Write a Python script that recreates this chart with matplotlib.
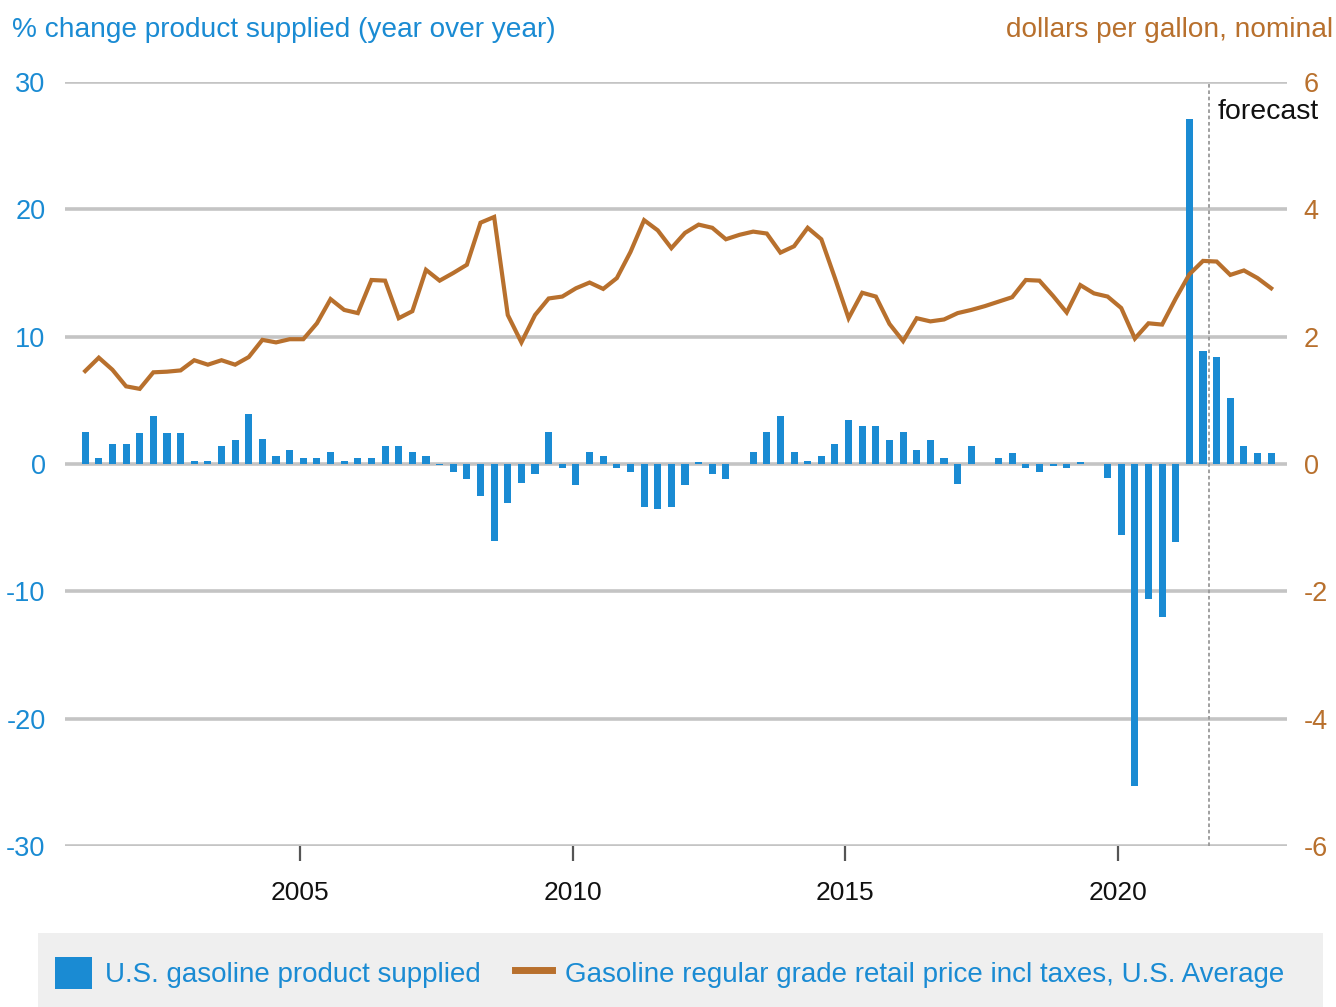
import matplotlib
matplotlib.use("Agg")
import matplotlib.pyplot as plt
import numpy as np
from matplotlib.patches import Rectangle
from matplotlib.lines import Line2D

plt.rcParams['font.family'] = ['Liberation Sans', 'DejaVu Sans']

# Quarterly data, 2001 Q1 .. 2022 Q4
start_year = 2001
n_quarters = 88

supply_pct = [
    2.5, 0.5, 1.6, 1.6, 2.4, 3.8, 2.4, 2.4, 0.2, 0.2,
    1.4, 1.9, 3.9, 2.0, 0.65, 1.1, 0.5, 0.5, 0.95, 0.25,
    0.5, 0.5, 1.4, 1.4, 0.95, 0.65, -0.1, -0.6, -1.2, -2.5,
    -6.05, -3.1, -1.5, -0.75, 2.5, -0.3, -1.65, 0.95, 0.65, -0.3,
    -0.6, -3.4, -3.55, -3.4, -1.65, 0.15, -0.75, -1.2, 0.0, 0.95,
    2.5, 3.8, 0.95, 0.2, 0.65, 1.6, 3.45, 3.0, 3.0, 1.9,
    2.5, 1.1, 1.85, 0.45, -1.55, 1.4, 0.0, 0.45, 0.9, -0.3,
    -0.6, -0.15, -0.3, 0.15, 0.0, -1.1, -5.6, -25.3, -10.6, -12.0,
    -6.1, 27.1, 8.9, 8.4, 5.15, 1.4, 0.9, 0.9,
]

price_usd = [
    1.46, 1.67, 1.48, 1.22, 1.18, 1.44, 1.45, 1.47, 1.63, 1.56,
    1.63, 1.56, 1.68, 1.95, 1.91, 1.96, 1.96, 2.21, 2.59, 2.42,
    2.37, 2.89, 2.88, 2.29, 2.40, 3.05, 2.88, 3.00, 3.13, 3.79,
    3.88, 2.34, 1.91, 2.34, 2.60, 2.63, 2.76, 2.85, 2.75, 2.92,
    3.33, 3.83, 3.67, 3.39, 3.63, 3.76, 3.71, 3.53, 3.60, 3.65,
    3.62, 3.32, 3.42, 3.71, 3.53, 2.92, 2.29, 2.69, 2.63, 2.20,
    1.93, 2.29, 2.24, 2.27, 2.37, 2.42, 2.48, 2.55, 2.62, 2.89,
    2.88, 2.64, 2.38, 2.81, 2.68, 2.63, 2.45, 1.97, 2.21, 2.19,
    2.60, 2.98, 3.19, 3.18, 2.97, 3.04, 2.92, 2.76,
]

year_ticks = [2005, 2010, 2015, 2020]
left_ticks = [-30, -20, -10, 0, 10, 20, 30]
right_ticks = [-6, -4, -2, 0, 2, 4, 6]
forecast_start = 2021.67

left_title = "% change product supplied (year over year)"
right_title = "dollars per gallon, nominal"
bar_label = "U.S. gasoline product supplied"
line_label = "Gasoline regular grade retail price incl taxes, U.S. Average"

BLUE = "#1a8bd3"
BROWN = "#b8702d"
GRID = "#c4c4c4"

x = start_year + np.arange(n_quarters) * 0.25 + 0.06

fig = plt.figure(figsize=(13.36, 10.07), dpi=100)
ax = fig.add_axes([65 / 1336, 1 - 846 / 1007, (1287 - 65) / 1336, (846 - 82) / 1007])
ax2 = ax.twinx()

ax.set_zorder(1)
ax.patch.set_visible(False)
ax2.set_zorder(0)

ax.bar(x, supply_pct, width=0.13, color=BLUE, zorder=3)
ax.set_ylim(-30, 30)
ax.set_xlim(2000.69, 2023.1)
ax.set_yticks(left_ticks)
ax.set_yticklabels([str(t) for t in left_ticks])
for t in left_ticks:
    ax.axhline(t, color=GRID, lw=2.6, zorder=1)

ax2.set_ylim(-6, 6)
ax2.set_yticks(right_ticks)
ax2.set_yticklabels([str(t) for t in right_ticks])

# price line on top
ax3 = ax.twinx()
ax3.set_zorder(2)
ax3.patch.set_visible(False)
ax3.plot(x, price_usd, color=BROWN, lw=3.0, solid_joinstyle='miter', zorder=4)
ax3.set_ylim(-6, 6)
ax3.set_yticks([])
for s in ax3.spines.values():
    s.set_visible(False)

ax.axvline(forecast_start, color="#999999", lw=1.3, ls=(0, (2, 1.5)), zorder=2)
ax.text(forecast_start + 0.16, 27.64, "forecast", fontsize=20.5, color="#111111",
        va="center", ha="left", zorder=5)

for a in (ax, ax2):
    for s in a.spines.values():
        s.set_visible(False)

ax.set_xticks(year_ticks)
ax.set_xticklabels([str(y) for y in year_ticks])
ax.tick_params(axis='x', length=11, width=1.6, color="#555555", labelsize=19,
               labelcolor="#111111", pad=14, direction='out')
ax.tick_params(axis='y', length=0, labelsize=19.5, labelcolor=BLUE, pad=14)
ax2.tick_params(axis='y', length=0, labelsize=19.5, labelcolor=BROWN, pad=12)
ax2.tick_params(axis='x', length=0)

fig.text(12 / 1336, 1 - 30 / 1007, left_title, color=BLUE, fontsize=20.2,
         ha="left", va="center")
fig.text(1333 / 1336, 1 - 30 / 1007, right_title, color=BROWN, fontsize=20.2,
         ha="right", va="center")

# legend background
bg = Rectangle((38 / 1336, 0), (1323 - 38) / 1336, (1007 - 933) / 1007,
               transform=fig.transFigure, facecolor="#efefef", edgecolor="none")
fig.patches.append(bg)

handles = [
    Rectangle((0, 0), 1, 1, facecolor=BLUE, edgecolor="none"),
    Line2D([0], [0], color=BROWN, lw=5),
]
leg = fig.legend(handles, [bar_label, line_label], loc="center left",
                 bbox_to_anchor=(55 / 1336, 1 - 973 / 1007), ncol=2,
                 frameon=False, fontsize=20, labelcolor=BLUE, borderpad=0,
                 borderaxespad=0,
                 handlelength=1.33, handleheight=1.4, handletextpad=0.47,
                 columnspacing=1.22)

fig.savefig("out.png", dpi=100)
